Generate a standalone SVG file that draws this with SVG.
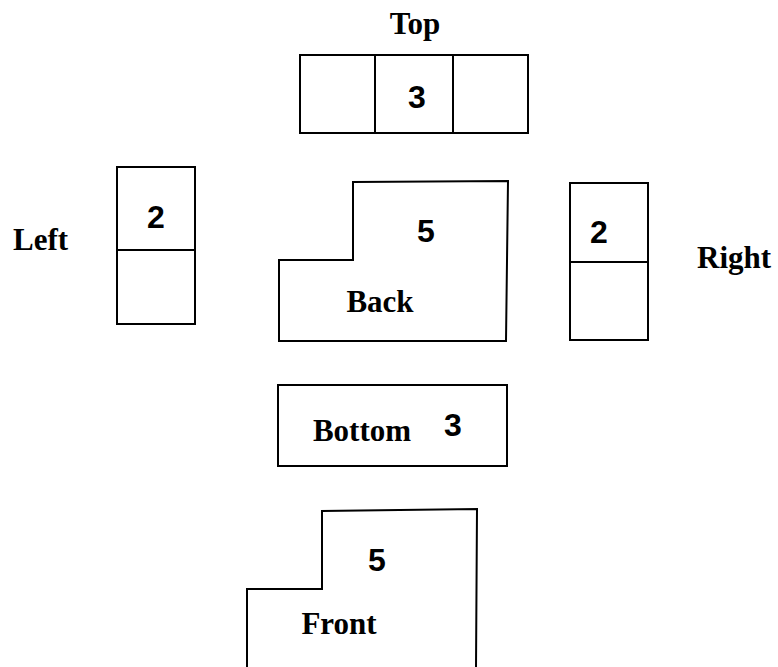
<svg xmlns="http://www.w3.org/2000/svg" width="778" height="667" viewBox="0 0 778 667">
<style>
.s{fill:#fff;stroke:#000;stroke-width:2}
.l{stroke:#000;stroke-width:2;fill:none}
.lab{font-family:"Liberation Serif","Times New Roman",serif;font-weight:bold;font-size:31px;fill:#000}
.num{font-family:"Liberation Sans",Arial,sans-serif;font-weight:bold;font-size:32px;fill:#000;text-anchor:middle}
</style>
<rect width="778" height="667" fill="#fff"/>
<g id="top">
<rect class="s" x="300" y="55" width="228" height="78"/>
<line class="l" x1="375" y1="55" x2="375" y2="133"/>
<line class="l" x1="453" y1="55" x2="453" y2="133"/>
<text class="lab" x="415" y="34" text-anchor="middle">Top</text>
<text class="num" x="417" y="108">3</text>
</g>
<g id="left">
<rect class="s" x="117" y="167" width="78" height="157"/>
<line class="l" x1="117" y1="250" x2="195" y2="250"/>
<text class="lab" x="13" y="250">Left</text>
<text class="num" x="156" y="228">2</text>
</g>
<g id="back">
<polygon class="s" points="353,182 508,181 506,341 279,341 279,260 353,260"/>
<text class="num" x="426" y="242">5</text>
<text class="lab" x="380" y="312" text-anchor="middle">Back</text>
</g>
<g id="right">
<rect class="s" x="570" y="183" width="78" height="157"/>
<line class="l" x1="570" y1="262" x2="648" y2="262"/>
<text class="num" x="599" y="243">2</text>
<text class="lab" x="697" y="268">Right</text>
</g>
<g id="bottom">
<rect class="s" x="278" y="385" width="229" height="81"/>
<text class="lab" x="362" y="441" text-anchor="middle">Bottom</text>
<text class="num" x="453" y="436">3</text>
</g>
<g id="front">
<polyline class="s" points="247,668 247,589 322,589 322,511 477,509 476,668"/>
<text class="num" x="377" y="571">5</text>
<text class="lab" x="339" y="634" text-anchor="middle">Front</text>
</g>
</svg>
